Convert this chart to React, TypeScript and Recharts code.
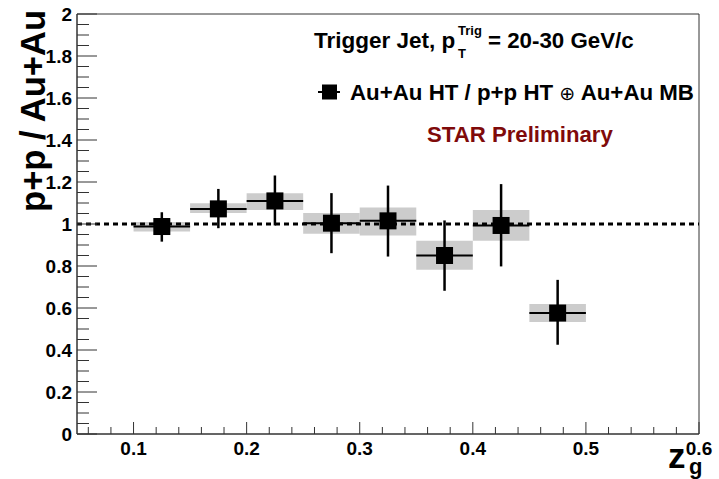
import React from 'react';
import {
  ComposedChart, Scatter, XAxis, YAxis, ErrorBar, ReferenceLine, ReferenceArea, Legend,
} from 'recharts';

// ---- data ----
const binCenters = [0.125, 0.175, 0.225, 0.275, 0.325, 0.375, 0.425, 0.475];
const binLow = [0.10, 0.15, 0.20, 0.25, 0.30, 0.35, 0.40, 0.45];
const binHigh = [0.15, 0.20, 0.25, 0.30, 0.35, 0.40, 0.45, 0.50];
const ratio = [0.988, 1.072, 1.110, 1.004, 1.015, 0.850, 0.993, 0.576];
const statHigh = [1.056, 1.167, 1.231, 1.147, 1.183, 1.017, 1.190, 0.734];
const statLow = [0.916, 0.980, 0.993, 0.861, 0.845, 0.682, 0.798, 0.425];
const sysHigh = [1.009, 1.099, 1.147, 1.052, 1.078, 0.920, 1.067, 0.619];
const sysLow = [0.964, 1.052, 1.067, 0.953, 0.945, 0.782, 0.920, 0.533];

const xDomain = [0.05, 0.6];
const yDomain = [0, 2];
const xMinorStep = 0.02;
const yMinorStep = 0.05;

const seriesNameA = 'Au+Au HT / p+p HT ';
const seriesNameOp = '\u2295';
const seriesNameB = ' Au+Au MB';
const seriesName = seriesNameA + seriesNameOp + seriesNameB;

const xTicks: number[] = [];
for (let i = 3; i <= 30; i++) xTicks.push(+(i * xMinorStep).toFixed(2));
const yTicks: number[] = [];
for (let i = 0; i <= 40; i++) yTicks.push(+(i * yMinorStep).toFixed(2));

const data = binCenters.map((x, i) => ({
  x,
  y: ratio[i],
  yErr: [ratio[i] - statLow[i], statHigh[i] - ratio[i]],
  xErr: [x - binLow[i], binHigh[i] - x],
}));

const FONT = '"Liberation Sans", Arial, Helvetica, sans-serif';
const AX = '#333';

const isMajor = (v: number, per: number) => Math.abs(v * per - Math.round(v * per)) < 1e-6;
const fmt = (v: number) => String(Number(v.toFixed(1)));

const XTick = (props: any) => {
  const { x, y, payload } = props;
  const v = payload.value;
  const major = isMajor(v, 10);
  return (
    <g>
      <line x1={x} x2={x} y1={y} y2={y - (major ? 12 : 7)} stroke={AX} strokeWidth={1} />
      {major && (
        <text x={x} y={y + 21} textAnchor="middle" fontFamily={FONT} fontWeight="bold" fontSize={19} fill="#000">
          {fmt(v)}
        </text>
      )}
    </g>
  );
};

const YTick = (props: any) => {
  const { x, y, payload } = props;
  const v = payload.value;
  const major = isMajor(v, 5);
  return (
    <g>
      <line x1={x} x2={x + (major ? 20 : 12)} y1={y} y2={y} stroke={AX} strokeWidth={1} />
      {major && (
        <text x={x - 5} y={y + 7} textAnchor="end" fontFamily={FONT} fontWeight="bold" fontSize={19} fill="#000">
          {fmt(v)}
        </text>
      )}
    </g>
  );
};

const SquareMarker = (props: any) => {
  const { cx, cy } = props;
  return <rect x={cx - 8.5} y={cy - 8.5} width={17} height={17} fill="#000" />;
};

const LegendContent = () => (
  <svg width={400} height={30} style={{ overflow: 'visible' }}>
    <line x1={2} x2={24} y1={14} y2={14} stroke="#000" strokeWidth={2} />
    <rect x={6} y={6.5} width={15} height={15} fill="#000" />
    <text x={34} y={21.5} fontFamily={FONT} fontWeight="bold" fontSize={22.3} fill="#000">
      <tspan>{seriesNameA}</tspan>
      <tspan fontWeight="normal" fontFamily='"DejaVu Sans", sans-serif' fontSize={19}>{seriesNameOp}</tspan>
      <tspan>{seriesNameB}</tspan>
    </text>
  </svg>
);

export default function App() {
  return (
    <div style={{ position: 'absolute', left: 0, top: 0, width: 719, height: 479, background: '#fff' }}>
      <ComposedChart
        width={719}
        height={479}
        data={data}
        margin={{ top: 14, right: 20, bottom: 0, left: 0 }}
      >
        <XAxis
          type="number"
          dataKey="x"
          domain={xDomain}
          ticks={xTicks}
          interval={0}
          allowDataOverflow
          height={45}
          stroke={AX}
          tickLine={false}
          tickSize={0}
          tickMargin={0}
          tick={<XTick />}
        />
        <YAxis
          type="number"
          dataKey="y"
          domain={yDomain}
          ticks={yTicks}
          interval={0}
          allowDataOverflow
          width={77}
          stroke={AX}
          tickLine={false}
          tickSize={0}
          tickMargin={0}
          tick={<YTick />}
        />
        <ReferenceArea x1={xDomain[0]} x2={xDomain[1]} y1={yDomain[0]} y2={yDomain[1]} fill="none" fillOpacity={0} stroke={AX} strokeWidth={1} />
        {binCenters.map((c, i) => (
          <ReferenceArea
            key={'sys' + i}
            x1={binLow[i]}
            x2={binHigh[i]}
            y1={sysLow[i]}
            y2={sysHigh[i]}
            fill="#cccccc"
            fillOpacity={1}
            stroke="none"
          />
        ))}
        <ReferenceLine y={1} stroke="#000" strokeWidth={3} strokeDasharray="5 4" />
        <Scatter name={seriesName} dataKey="y" fill="#000" shape={<SquareMarker />} isAnimationActive={false}>
          <ErrorBar dataKey="yErr" direction="y" width={0} stroke="#000" strokeWidth={2.5} isAnimationActive={false} />
          <ErrorBar dataKey="xErr" direction="x" width={0} stroke="#000" strokeWidth={2} isAnimationActive={false} />
        </Scatter>
        <Legend
          layout="vertical"
          align="center"
          verticalAlign="middle"
          content={<LegendContent />}
          wrapperStyle={{ position: 'absolute', left: 316, top: 78, width: 400, height: 30 }}
        />
      </ComposedChart>
      <svg width={719} height={479} style={{ position: 'absolute', left: 0, top: 0, pointerEvents: 'none' }}>
        <g fontFamily={FONT} fontWeight="bold" fill="#000">
          <text x={314} y={47.5} fontSize={22.5}>Trigger Jet, p</text>
          <text x={458} y={35} fontSize={13}>Trig</text>
          <text x={458} y={58} fontSize={13}>T</text>
          <text x={488} y={47.5} fontSize={22.3}>= 20-30 GeV/c</text>
          <text x={427} y={142} fontSize={22.2} fill="#7f0a0a">STAR Preliminary</text>
          <text transform="translate(45,10) rotate(-90)" textAnchor="end" fontSize={34.5}>p+p / Au+Au</text>
          <text x={668} y={468} fontSize={35}>z</text>
          <text x={689} y={474} fontSize={22}>g</text>
        </g>
      </svg>
    </div>
  );
}
